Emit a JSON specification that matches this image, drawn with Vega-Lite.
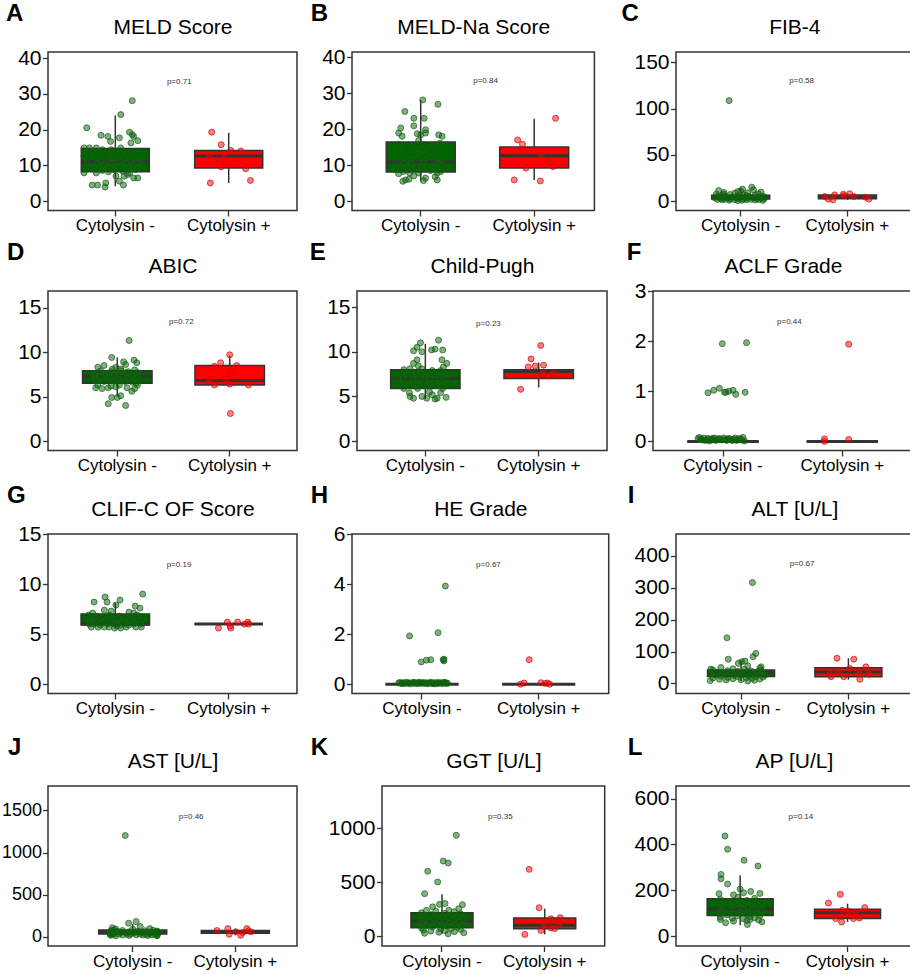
{
"$schema": "https://vega.github.io/schema/vega-lite/v6.json",
"padding": {"left": 0, "top": 0, "right": 0, "bottom": 0},
"background": "#ffffff",
"spacing": 0,
"config": {
  "font": "Liberation Sans",
  "view": {"stroke": "#333333", "strokeWidth": 1.5},
  "axis": {"grid": false, "domain": false, "tickColor": "#333333", "tickWidth": 1.3, "tickSize": 5.5, "labelColor": "#000000", "labelFont": "Liberation Sans", "labelPadding": 1.5, "titleFont": "Liberation Sans", "titleColor": "#000000", "titleFontWeight": "normal"},
  "axisX": {"labelFontSize": 17, "labelAngle": 0},
  "axisY": {"labelFontSize": 21, "labelFlush": false, "labelOverlap": false, "labelBound": false},
  "title": {"fontSize": 24, "fontWeight": "bold", "anchor": "start", "frame": "bounds", "offset": -9.5, "baseline": "alphabetic", "color": "#000000", "font": "Liberation Sans"}
},
"datasets": {
"box": [
{"p":"A","g":"-","lo":4.2,"q1":8.2,"med":11,"q3":14.7,"hi":24},
{"p":"A","g":"+","lo":5.1,"q1":9.3,"med":12.6,"q3":14.2,"hi":19.1},
{"p":"B","g":"-","lo":5.6,"q1":8.2,"med":10.9,"q3":16.5,"hi":28.2},
{"p":"B","g":"+","lo":6.0,"q1":9.3,"med":12.7,"q3":15.1,"hi":23.0},
{"p":"C","g":"-","lo":0.6,"q1":2.2,"med":4.0,"q3":6.5,"hi":13},
{"p":"C","g":"+","lo":1.4,"q1":2.5,"med":5.0,"q3":6.6,"hi":7.9},
{"p":"D","g":"-","lo":5.0,"q1":6.5,"med":7.3,"q3":7.9,"hi":9.4},
{"p":"D","g":"+","lo":6.3,"q1":6.3,"med":6.8,"q3":8.5,"hi":9.6},
{"p":"E","g":"-","lo":4.7,"q1":5.9,"med":7.0,"q3":8.0,"hi":10.9},
{"p":"E","g":"+","lo":6.0,"q1":7.0,"med":7.8,"q3":8.0,"hi":8.8},
{"p":"F","g":"-","lo":0,"q1":0,"med":0,"q3":0,"hi":0},
{"p":"F","g":"+","lo":0,"q1":0,"med":0,"q3":0,"hi":0},
{"p":"G","g":"-","lo":5.6,"q1":5.9,"med":6.0,"q3":7.0,"hi":8.1},
{"p":"G","g":"+","lo":6.0,"q1":6.0,"med":6.0,"q3":6.0,"hi":6.0},
{"p":"H","g":"-","lo":0,"q1":0,"med":0,"q3":0,"hi":0},
{"p":"H","g":"+","lo":0,"q1":0,"med":0,"q3":0,"hi":0},
{"p":"I","g":"-","lo":8,"q1":22,"med":34,"q3":42,"hi":72},
{"p":"I","g":"+","lo":12,"q1":21,"med":36,"q3":49,"hi":79},
{"p":"J","g":"-","lo":12,"q1":30,"med":52,"q3":78,"hi":150},
{"p":"J","g":"+","lo":16,"q1":40,"med":58,"q3":72,"hi":95},
{"p":"K","g":"-","lo":20,"q1":77,"med":136,"q3":216,"hi":386},
{"p":"K","g":"+","lo":15,"q1":68,"med":99,"q3":167,"hi":253},
{"p":"L","g":"-","lo":47,"q1":90,"med":119,"q3":163,"hi":265},
{"p":"L","g":"+","lo":62,"q1":76,"med":102,"q3":117,"hi":141}
],
"ann": [
{"p":"A","t":"p=0.71","y":33.2},
{"p":"B","t":"p=0.84","y":33.5},
{"p":"C","t":"p=0.58","y":129.9},
{"p":"D","t":"p=0.72","y":13.4},
{"p":"E","t":"p=0.23","y":13.1},
{"p":"F","t":"p=0.44","y":2.39},
{"p":"G","t":"p=0.19","y":11.9},
{"p":"H","t":"p=0.67","y":4.77},
{"p":"I","t":"p=0.67","y":375},
{"p":"J","t":"p=0.46","y":1420},
{"p":"K","t":"p=0.35","y":1102},
{"p":"L","t":"p=0.14","y":520}
],
"pts": [
{"p":"A","g":"-","v":28.1,"j":0.25},{"p":"A","g":"-","v":24.2,"j":0.08},{"p":"A","g":"-","v":20.5,"j":-0.42},{"p":"A","g":"-","v":18.4,"j":-0.21},{"p":"A","g":"-","v":18.1,"j":-0.11},{"p":"A","g":"-","v":19.3,"j":0.21},{"p":"A","g":"-","v":18.6,"j":0.25},{"p":"A","g":"-","v":18.1,"j":0.27},{"p":"A","g":"-","v":16.7,"j":-0.07},{"p":"A","g":"-","v":16.3,"j":0.23},{"p":"A","g":"-","v":16.9,"j":0.33},{"p":"A","g":"-","v":17.7,"j":0.06},{"p":"A","g":"-","v":14.9,"j":-0.46},{"p":"A","g":"-","v":14.9,"j":-0.38},{"p":"A","g":"-","v":14.9,"j":-0.28},{"p":"A","g":"-","v":14.4,"j":-0.19},{"p":"A","g":"-","v":14.4,"j":-0.06},{"p":"A","g":"-","v":13.0,"j":-0.09},{"p":"A","g":"-","v":14.0,"j":0.01},{"p":"A","g":"-","v":14.9,"j":0.08},{"p":"A","g":"-","v":13.2,"j":0.18},{"p":"A","g":"-","v":12.6,"j":-0.46},{"p":"A","g":"-","v":12.3,"j":-0.28},{"p":"A","g":"-","v":12.6,"j":-0.14},{"p":"A","g":"-","v":12.1,"j":-0.04},{"p":"A","g":"-","v":12.4,"j":0.03},{"p":"A","g":"-","v":12.1,"j":0.28},{"p":"A","g":"-","v":11.9,"j":0.35},{"p":"A","g":"-","v":10.7,"j":-0.41},{"p":"A","g":"-","v":10.4,"j":-0.26},{"p":"A","g":"-","v":11.3,"j":-0.21},{"p":"A","g":"-","v":10.2,"j":-0.16},{"p":"A","g":"-","v":10.7,"j":-0.06},{"p":"A","g":"-","v":11.2,"j":0.06},{"p":"A","g":"-","v":10.7,"j":0.16},{"p":"A","g":"-","v":10.2,"j":0.25},{"p":"A","g":"-","v":10.2,"j":0.4},{"p":"A","g":"-","v":9.3,"j":-0.36},{"p":"A","g":"-","v":7.9,"j":-0.46},{"p":"A","g":"-","v":7.9,"j":-0.28},{"p":"A","g":"-","v":8.6,"j":-0.19},{"p":"A","g":"-","v":8.2,"j":-0.1},{"p":"A","g":"-","v":8.8,"j":-0.01},{"p":"A","g":"-","v":8.4,"j":0.11},{"p":"A","g":"-","v":7.9,"j":0.21},{"p":"A","g":"-","v":8.8,"j":0.3},{"p":"A","g":"-","v":9.3,"j":0.33},{"p":"A","g":"-","v":7.0,"j":0.01},{"p":"A","g":"-","v":7.0,"j":0.13},{"p":"A","g":"-","v":7.4,"j":0.18},{"p":"A","g":"-","v":6.5,"j":0.27},{"p":"A","g":"-","v":6.5,"j":0.33},{"p":"A","g":"-","v":5.6,"j":0.06},{"p":"A","g":"-","v":4.5,"j":0.12},{"p":"A","g":"-","v":5.1,"j":-0.14},{"p":"A","g":"-","v":4.5,"j":-0.34},{"p":"A","g":"-","v":4.5,"j":-0.26},{"p":"A","g":"-","v":4.0,"j":-0.15},
{"p":"A","g":"+","v":19.3,"j":-0.25},{"p":"A","g":"+","v":15.8,"j":-0.11},{"p":"A","g":"+","v":14.2,"j":0.03},{"p":"A","g":"+","v":14.0,"j":0.18},{"p":"A","g":"+","v":12.6,"j":-0.28},{"p":"A","g":"+","v":12.4,"j":-0.07},{"p":"A","g":"+","v":11.0,"j":-0.04},{"p":"A","g":"+","v":9.6,"j":-0.11},{"p":"A","g":"+","v":9.1,"j":0.25},{"p":"A","g":"+","v":5.1,"j":-0.27},{"p":"A","g":"+","v":5.8,"j":0.32},
{"p":"B","g":"-","v":28.2,"j":0.03},{"p":"B","g":"-","v":27.0,"j":0.25},{"p":"B","g":"-","v":25.0,"j":-0.23},{"p":"B","g":"-","v":23.1,"j":-0.1},{"p":"B","g":"-","v":23.1,"j":0.05},{"p":"B","g":"-","v":21.0,"j":-0.1},{"p":"B","g":"-","v":20.4,"j":-0.29},{"p":"B","g":"-","v":19.9,"j":0.07},{"p":"B","g":"-","v":19.0,"j":-0.32},{"p":"B","g":"-","v":18.8,"j":-0.05},{"p":"B","g":"-","v":18.5,"j":0.0},{"p":"B","g":"-","v":19.0,"j":0.07},{"p":"B","g":"-","v":18.5,"j":0.26},{"p":"B","g":"-","v":18.1,"j":0.31},{"p":"B","g":"-","v":18.1,"j":-0.27},{"p":"B","g":"-","v":15.9,"j":-0.32},{"p":"B","g":"-","v":16.9,"j":-0.03},{"p":"B","g":"-","v":14.8,"j":-0.26},{"p":"B","g":"-","v":15.3,"j":-0.13},{"p":"B","g":"-","v":15.3,"j":0.24},{"p":"B","g":"-","v":16.2,"j":0.28},{"p":"B","g":"-","v":14.4,"j":0.02},{"p":"B","g":"-","v":14.8,"j":0.16},{"p":"B","g":"-","v":13.2,"j":-0.04},{"p":"B","g":"-","v":13.0,"j":0.08},{"p":"B","g":"-","v":13.0,"j":-0.1},{"p":"B","g":"-","v":11.8,"j":-0.19},{"p":"B","g":"-","v":12.5,"j":0.13},{"p":"B","g":"-","v":12.0,"j":0.26},{"p":"B","g":"-","v":11.1,"j":0.04},{"p":"B","g":"-","v":10.6,"j":-0.25},{"p":"B","g":"-","v":10.6,"j":-0.14},{"p":"B","g":"-","v":10.5,"j":0.26},{"p":"B","g":"-","v":10.2,"j":0.31},{"p":"B","g":"-","v":9.7,"j":-0.06},{"p":"B","g":"-","v":9.3,"j":0.02},{"p":"B","g":"-","v":9.7,"j":0.16},{"p":"B","g":"-","v":8.8,"j":-0.37},{"p":"B","g":"-","v":8.3,"j":-0.25},{"p":"B","g":"-","v":7.7,"j":-0.32},{"p":"B","g":"-","v":7.9,"j":-0.16},{"p":"B","g":"-","v":8.6,"j":0.14},{"p":"B","g":"-","v":7.9,"j":0.24},{"p":"B","g":"-","v":8.3,"j":0.29},{"p":"B","g":"-","v":7.1,"j":-0.1},{"p":"B","g":"-","v":7.9,"j":-0.03},{"p":"B","g":"-","v":6.5,"j":0.07},{"p":"B","g":"-","v":6.9,"j":0.21},{"p":"B","g":"-","v":6.0,"j":-0.22},{"p":"B","g":"-","v":6.2,"j":-0.17},{"p":"B","g":"-","v":5.6,"j":-0.26},{"p":"B","g":"-","v":6.0,"j":0.24},{"p":"B","g":"-","v":5.8,"j":0.04},
{"p":"B","g":"+","v":23.1,"j":0.31},{"p":"B","g":"+","v":17.1,"j":-0.24},{"p":"B","g":"+","v":15.9,"j":-0.17},{"p":"B","g":"+","v":14.2,"j":-0.16},{"p":"B","g":"+","v":12.8,"j":0.1},{"p":"B","g":"+","v":9.3,"j":-0.12},{"p":"B","g":"+","v":10.9,"j":0.2},{"p":"B","g":"+","v":9.7,"j":0.27},{"p":"B","g":"+","v":6.0,"j":-0.29},{"p":"B","g":"+","v":5.7,"j":0.09},
{"p":"C","g":"-","v":108.6,"j":-0.2},{"p":"C","g":"-","v":15.1,"j":0.19},{"p":"C","g":"-","v":13.0,"j":0.03},{"p":"C","g":"-","v":11.5,"j":-0.38},{"p":"C","g":"-","v":12.2,"j":0.22},{"p":"C","g":"-","v":10.4,"j":-0.05},{"p":"C","g":"-","v":9.4,"j":-0.29},{"p":"C","g":"-","v":8.6,"j":-0.1},{"p":"C","g":"-","v":9.0,"j":0.12},{"p":"C","g":"-","v":8.0,"j":0.3},{"p":"C","g":"-","v":7.5,"j":-0.42},{"p":"C","g":"-","v":7.2,"j":-0.18},{"p":"C","g":"-","v":6.8,"j":0.05},{"p":"C","g":"-","v":6.5,"j":0.25},{"p":"C","g":"-","v":6.2,"j":-0.32},{"p":"C","g":"-","v":6.0,"j":0.1},{"p":"C","g":"-","v":5.8,"j":-0.05},{"p":"C","g":"-","v":5.5,"j":0.38},{"p":"C","g":"-","v":5.3,"j":-0.25},{"p":"C","g":"-","v":5.1,"j":0.15},{"p":"C","g":"-","v":4.9,"j":-0.4},{"p":"C","g":"-","v":4.7,"j":0.0},{"p":"C","g":"-","v":4.5,"j":0.3},{"p":"C","g":"-","v":4.4,"j":-0.15},{"p":"C","g":"-","v":4.2,"j":0.2},{"p":"C","g":"-","v":4.0,"j":-0.3},{"p":"C","g":"-","v":3.9,"j":0.08},{"p":"C","g":"-","v":3.7,"j":-0.45},{"p":"C","g":"-","v":3.6,"j":0.35},{"p":"C","g":"-","v":3.5,"j":-0.08},{"p":"C","g":"-","v":3.3,"j":0.22},{"p":"C","g":"-","v":3.2,"j":-0.22},{"p":"C","g":"-","v":3.0,"j":0.12},{"p":"C","g":"-","v":2.9,"j":-0.35},{"p":"C","g":"-","v":2.8,"j":0.28},{"p":"C","g":"-","v":2.7,"j":-0.02},{"p":"C","g":"-","v":2.5,"j":0.4},{"p":"C","g":"-","v":2.4,"j":-0.18},{"p":"C","g":"-","v":2.3,"j":0.05},{"p":"C","g":"-","v":2.1,"j":-0.28},{"p":"C","g":"-","v":2.0,"j":0.18},{"p":"C","g":"-","v":1.9,"j":-0.4},{"p":"C","g":"-","v":1.8,"j":0.32},{"p":"C","g":"-","v":1.6,"j":-0.1},{"p":"C","g":"-","v":1.5,"j":0.1},{"p":"C","g":"-","v":1.4,"j":-0.32},{"p":"C","g":"-","v":1.2,"j":0.25},{"p":"C","g":"-","v":1.0,"j":-0.2},{"p":"C","g":"-","v":0.9,"j":0.02},{"p":"C","g":"-","v":0.8,"j":0.38},{"p":"C","g":"-","v":0.6,"j":-0.05},{"p":"C","g":"-","v":7.8,"j":-0.3},{"p":"C","g":"-","v":9.8,"j":0.35},{"p":"C","g":"-","v":11.0,"j":0.0},{"p":"C","g":"-","v":4.1,"j":0.42},
{"p":"C","g":"+","v":6.8,"j":-0.22},{"p":"C","g":"+","v":5.0,"j":-0.39},{"p":"C","g":"+","v":1.4,"j":-0.25},{"p":"C","g":"+","v":7.5,"j":-0.07},{"p":"C","g":"+","v":7.9,"j":0.04},{"p":"C","g":"+","v":5.0,"j":0.11},{"p":"C","g":"+","v":4.3,"j":0.31},{"p":"C","g":"+","v":2.2,"j":0.37},{"p":"C","g":"+","v":2.2,"j":-0.33},{"p":"C","g":"+","v":5.8,"j":-0.06},
{"p":"D","g":"-","v":11.3,"j":0.17},{"p":"D","g":"-","v":9.4,"j":-0.08},{"p":"D","g":"-","v":9.1,"j":0.24},{"p":"D","g":"-","v":8.8,"j":0.28},{"p":"D","g":"-","v":8.9,"j":0.09},{"p":"D","g":"-","v":8.3,"j":-0.28},{"p":"D","g":"-","v":8.5,"j":-0.19},{"p":"D","g":"-","v":8.3,"j":-0.02},{"p":"D","g":"-","v":8.1,"j":0.05},{"p":"D","g":"-","v":8.0,"j":0.25},{"p":"D","g":"-","v":7.9,"j":-0.24},{"p":"D","g":"-","v":7.8,"j":-0.09},{"p":"D","g":"-","v":7.7,"j":0.13},{"p":"D","g":"-","v":7.7,"j":0.29},{"p":"D","g":"-","v":7.4,"j":-0.33},{"p":"D","g":"-","v":7.5,"j":-0.16},{"p":"D","g":"-","v":7.4,"j":-0.04},{"p":"D","g":"-","v":7.5,"j":0.03},{"p":"D","g":"-","v":7.4,"j":0.2},{"p":"D","g":"-","v":7.2,"j":-0.25},{"p":"D","g":"-","v":7.1,"j":-0.13},{"p":"D","g":"-","v":7.2,"j":0.08},{"p":"D","g":"-","v":7.0,"j":0.17},{"p":"D","g":"-","v":7.1,"j":0.27},{"p":"D","g":"-","v":6.8,"j":-0.31},{"p":"D","g":"-","v":6.7,"j":-0.19},{"p":"D","g":"-","v":6.8,"j":-0.02},{"p":"D","g":"-","v":6.7,"j":0.11},{"p":"D","g":"-","v":6.6,"j":0.22},{"p":"D","g":"-","v":6.3,"j":-0.28},{"p":"D","g":"-","v":6.2,"j":-0.09},{"p":"D","g":"-","v":6.3,"j":0.03},{"p":"D","g":"-","v":6.3,"j":0.29},{"p":"D","g":"-","v":5.9,"j":-0.22},{"p":"D","g":"-","v":6.0,"j":-0.13},{"p":"D","g":"-","v":5.9,"j":0.25},{"p":"D","g":"-","v":5.6,"j":0.21},{"p":"D","g":"-","v":4.9,"j":0.0},{"p":"D","g":"-","v":4.9,"j":-0.08},{"p":"D","g":"-","v":5.1,"j":0.05},{"p":"D","g":"-","v":4.2,"j":-0.13},{"p":"D","g":"-","v":4.0,"j":0.12},{"p":"D","g":"-","v":6.0,"j":-0.31},{"p":"D","g":"-","v":6.0,"j":0.14},{"p":"D","g":"-","v":8.1,"j":-0.07},{"p":"D","g":"-","v":7.9,"j":0.05},{"p":"D","g":"-","v":7.6,"j":-0.34},{"p":"D","g":"-","v":7.3,"j":0.3},{"p":"D","g":"-","v":6.9,"j":-0.3},{"p":"D","g":"-","v":6.5,"j":0.27},{"p":"D","g":"-","v":7.0,"j":0.0},{"p":"D","g":"-","v":7.8,"j":0.16},{"p":"D","g":"-","v":6.1,"j":-0.02},{"p":"D","g":"-","v":8.6,"j":0.12},
{"p":"D","g":"+","v":9.7,"j":0.0},{"p":"D","g":"+","v":8.8,"j":-0.13},{"p":"D","g":"+","v":8.5,"j":0.1},{"p":"D","g":"+","v":8.4,"j":-0.22},{"p":"D","g":"+","v":7.8,"j":0.01},{"p":"D","g":"+","v":7.0,"j":-0.05},{"p":"D","g":"+","v":6.8,"j":-0.3},{"p":"D","g":"+","v":6.3,"j":-0.22},{"p":"D","g":"+","v":6.4,"j":0.0},{"p":"D","g":"+","v":6.3,"j":0.27},{"p":"D","g":"+","v":3.1,"j":0.01},
{"p":"E","g":"-","v":11.0,"j":-0.07},{"p":"E","g":"-","v":11.3,"j":0.19},{"p":"E","g":"-","v":10.5,"j":-0.12},{"p":"E","g":"-","v":10.1,"j":-0.17},{"p":"E","g":"-","v":10.0,"j":-0.05},{"p":"E","g":"-","v":10.2,"j":0.09},{"p":"E","g":"-","v":10.3,"j":0.14},{"p":"E","g":"-","v":10.2,"j":0.25},{"p":"E","g":"-","v":9.1,"j":-0.12},{"p":"E","g":"-","v":9.1,"j":0.24},{"p":"E","g":"-","v":8.7,"j":0.31},{"p":"E","g":"-","v":8.7,"j":-0.17},{"p":"E","g":"-","v":8.4,"j":-0.1},{"p":"E","g":"-","v":8.3,"j":0.26},{"p":"E","g":"-","v":8.0,"j":-0.31},{"p":"E","g":"-","v":8.1,"j":-0.22},{"p":"E","g":"-","v":8.1,"j":-0.05},{"p":"E","g":"-","v":7.9,"j":0.1},{"p":"E","g":"-","v":7.9,"j":0.22},{"p":"E","g":"-","v":7.5,"j":-0.26},{"p":"E","g":"-","v":7.5,"j":-0.13},{"p":"E","g":"-","v":7.3,"j":0.0},{"p":"E","g":"-","v":7.4,"j":0.14},{"p":"E","g":"-","v":7.5,"j":0.29},{"p":"E","g":"-","v":7.2,"j":-0.43},{"p":"E","g":"-","v":7.0,"j":-0.32},{"p":"E","g":"-","v":6.9,"j":-0.18},{"p":"E","g":"-","v":7.1,"j":-0.07},{"p":"E","g":"-","v":7.0,"j":0.06},{"p":"E","g":"-","v":6.8,"j":0.21},{"p":"E","g":"-","v":7.0,"j":0.31},{"p":"E","g":"-","v":6.4,"j":-0.38},{"p":"E","g":"-","v":6.2,"j":-0.24},{"p":"E","g":"-","v":6.3,"j":-0.1},{"p":"E","g":"-","v":6.2,"j":0.03},{"p":"E","g":"-","v":6.2,"j":0.17},{"p":"E","g":"-","v":5.9,"j":-0.31},{"p":"E","g":"-","v":5.9,"j":-0.11},{"p":"E","g":"-","v":5.9,"j":0.25},{"p":"E","g":"-","v":5.4,"j":-0.23},{"p":"E","g":"-","v":5.5,"j":0.06},{"p":"E","g":"-","v":5.4,"j":0.22},{"p":"E","g":"-","v":4.8,"j":-0.17},{"p":"E","g":"-","v":4.8,"j":0.02},{"p":"E","g":"-","v":4.7,"j":0.14},{"p":"E","g":"-","v":4.8,"j":0.17},{"p":"E","g":"-","v":4.9,"j":0.3},{"p":"E","g":"-","v":5.0,"j":-0.22},{"p":"E","g":"-","v":5.0,"j":-0.05},{"p":"E","g":"-","v":5.2,"j":0.1},
{"p":"E","g":"+","v":10.7,"j":0.03},{"p":"E","g":"+","v":9.2,"j":-0.11},{"p":"E","g":"+","v":8.3,"j":-0.15},{"p":"E","g":"+","v":8.4,"j":-0.05},{"p":"E","g":"+","v":5.8,"j":-0.26},{"p":"E","g":"+","v":7.6,"j":0.06},{"p":"E","g":"+","v":7.3,"j":0.14},{"p":"E","g":"+","v":7.6,"j":0.21},{"p":"E","g":"+","v":8.5,"j":0.07},{"p":"E","g":"+","v":7.3,"j":-0.02},
{"p":"F","g":"-","v":0.06,"j":-0.35},{"p":"F","g":"-","v":0.08,"j":-0.33},{"p":"F","g":"-","v":0.05,"j":-0.31},{"p":"F","g":"-","v":0.03,"j":-0.29},{"p":"F","g":"-","v":0.07,"j":-0.27},{"p":"F","g":"-","v":0.02,"j":-0.25},{"p":"F","g":"-","v":0.04,"j":-0.23},{"p":"F","g":"-","v":0.06,"j":-0.21},{"p":"F","g":"-","v":0.01,"j":-0.19},{"p":"F","g":"-","v":0.05,"j":-0.17},{"p":"F","g":"-","v":0.03,"j":-0.15},{"p":"F","g":"-","v":0.07,"j":-0.12},{"p":"F","g":"-","v":0.02,"j":-0.1},{"p":"F","g":"-","v":0.04,"j":-0.08},{"p":"F","g":"-","v":0.06,"j":-0.06},{"p":"F","g":"-","v":0.05,"j":-0.04},{"p":"F","g":"-","v":0.03,"j":-0.02},{"p":"F","g":"-","v":0.07,"j":0.01},{"p":"F","g":"-","v":0.04,"j":0.03},{"p":"F","g":"-","v":0.02,"j":0.05},{"p":"F","g":"-","v":0.06,"j":0.08},{"p":"F","g":"-","v":0.05,"j":0.1},{"p":"F","g":"-","v":0.03,"j":0.12},{"p":"F","g":"-","v":0.04,"j":0.15},{"p":"F","g":"-","v":0.07,"j":0.17},{"p":"F","g":"-","v":0.02,"j":0.19},{"p":"F","g":"-","v":0.05,"j":0.21},{"p":"F","g":"-","v":0.06,"j":0.24},{"p":"F","g":"-","v":0.03,"j":0.26},{"p":"F","g":"-","v":0.08,"j":0.28},{"p":"F","g":"-","v":0.01,"j":0.3},{"p":"F","g":"-","v":0.04,"j":-0.3},{"p":"F","g":"-","v":0.02,"j":0.13},{"p":"F","g":"-","v":0.06,"j":-0.14},{"p":"F","g":"-","v":0.05,"j":0.06},
{"p":"F","g":"-","v":0.97,"j":-0.21},{"p":"F","g":"-","v":1.02,"j":-0.13},{"p":"F","g":"-","v":1.06,"j":-0.05},{"p":"F","g":"-","v":0.98,"j":0.02},{"p":"F","g":"-","v":0.98,"j":0.04},{"p":"F","g":"-","v":1.0,"j":0.08},{"p":"F","g":"-","v":1.02,"j":0.14},{"p":"F","g":"-","v":0.94,"j":0.18},{"p":"F","g":"-","v":0.98,"j":0.31},{"p":"F","g":"-","v":1.95,"j":-0.01},{"p":"F","g":"-","v":1.97,"j":0.33},
{"p":"F","g":"+","v":0.05,"j":-0.25},{"p":"F","g":"+","v":0.0,"j":-0.25},{"p":"F","g":"+","v":0.04,"j":0.09},{"p":"F","g":"+","v":1.94,"j":0.09},
{"p":"G","g":"-","v":9.0,"j":0.4},{"p":"G","g":"-","v":8.7,"j":-0.15},{"p":"G","g":"-","v":8.2,"j":-0.31},{"p":"G","g":"-","v":8.2,"j":-0.12},{"p":"G","g":"-","v":8.4,"j":0.07},{"p":"G","g":"-","v":7.9,"j":0.01},{"p":"G","g":"-","v":7.8,"j":0.29},{"p":"G","g":"-","v":7.4,"j":-0.16},{"p":"G","g":"-","v":7.3,"j":-0.06},{"p":"G","g":"-","v":7.2,"j":0.2},{"p":"G","g":"-","v":7.1,"j":0.27},{"p":"G","g":"-","v":6.9,"j":-0.39},{"p":"G","g":"-","v":6.8,"j":-0.26},{"p":"G","g":"-","v":6.9,"j":-0.09},{"p":"G","g":"-","v":6.8,"j":0.06},{"p":"G","g":"-","v":6.6,"j":0.14},{"p":"G","g":"-","v":6.5,"j":-0.23},{"p":"G","g":"-","v":6.5,"j":-0.01},{"p":"G","g":"-","v":6.5,"j":0.2},{"p":"G","g":"-","v":6.5,"j":0.33},{"p":"G","g":"-","v":6.3,"j":-0.37},{"p":"G","g":"-","v":6.3,"j":-0.15},{"p":"G","g":"-","v":6.3,"j":0.06},{"p":"G","g":"-","v":6.3,"j":0.25},{"p":"G","g":"-","v":6.0,"j":-0.31},{"p":"G","g":"-","v":6.0,"j":-0.11},{"p":"G","g":"-","v":6.0,"j":0.01},{"p":"G","g":"-","v":6.0,"j":0.14},{"p":"G","g":"-","v":6.0,"j":0.27},{"p":"G","g":"-","v":5.9,"j":-0.22},{"p":"G","g":"-","v":5.9,"j":0.07},{"p":"G","g":"-","v":6.0,"j":0.37},{"p":"G","g":"-","v":5.7,"j":-0.35},{"p":"G","g":"-","v":5.7,"j":-0.16},{"p":"G","g":"-","v":5.6,"j":-0.01},{"p":"G","g":"-","v":5.7,"j":0.16},{"p":"G","g":"-","v":5.7,"j":0.3},{"p":"G","g":"-","v":5.7,"j":-0.25},{"p":"G","g":"-","v":5.7,"j":-0.09},{"p":"G","g":"-","v":5.6,"j":0.08},{"p":"G","g":"-","v":6.2,"j":-0.38},{"p":"G","g":"-","v":6.4,"j":0.38},{"p":"G","g":"-","v":6.1,"j":-0.05},{"p":"G","g":"-","v":5.9,"j":0.2},{"p":"G","g":"-","v":6.7,"j":-0.2},{"p":"G","g":"-","v":6.9,"j":0.32},{"p":"G","g":"-","v":6.0,"j":-0.38},{"p":"G","g":"-","v":5.8,"j":0.02},{"p":"G","g":"-","v":6.3,"j":-0.28},{"p":"G","g":"-","v":6.6,"j":0.05},{"p":"G","g":"-","v":7.1,"j":-0.33},{"p":"G","g":"-","v":5.7,"j":0.38},{"p":"G","g":"-","v":6.8,"j":0.3},{"p":"G","g":"-","v":6.2,"j":0.1},{"p":"G","g":"-","v":7.6,"j":0.36},
{"p":"G","g":"+","v":5.6,"j":-0.15},{"p":"G","g":"+","v":6.2,"j":-0.02},{"p":"G","g":"+","v":5.6,"j":0.03},{"p":"G","g":"+","v":6.2,"j":0.13},{"p":"G","g":"+","v":6.0,"j":0.23},{"p":"G","g":"+","v":6.2,"j":0.28},{"p":"G","g":"+","v":6.0,"j":0.29},{"p":"G","g":"+","v":5.8,"j":0.02},
{"p":"H","g":"-","v":0.05,"j":-0.32},{"p":"H","g":"-","v":0.07,"j":-0.3},{"p":"H","g":"-","v":0.03,"j":-0.28},{"p":"H","g":"-","v":0.06,"j":-0.26},{"p":"H","g":"-","v":0.02,"j":-0.24},{"p":"H","g":"-","v":0.08,"j":-0.22},{"p":"H","g":"-","v":0.04,"j":-0.2},{"p":"H","g":"-","v":0.06,"j":-0.18},{"p":"H","g":"-","v":0.01,"j":-0.16},{"p":"H","g":"-","v":0.05,"j":-0.14},{"p":"H","g":"-","v":0.07,"j":-0.12},{"p":"H","g":"-","v":0.03,"j":-0.1},{"p":"H","g":"-","v":0.06,"j":-0.08},{"p":"H","g":"-","v":0.02,"j":-0.06},{"p":"H","g":"-","v":0.08,"j":-0.04},{"p":"H","g":"-","v":0.04,"j":-0.02},{"p":"H","g":"-","v":0.05,"j":0.0},{"p":"H","g":"-","v":0.07,"j":0.02},{"p":"H","g":"-","v":0.03,"j":0.04},{"p":"H","g":"-","v":0.06,"j":0.06},{"p":"H","g":"-","v":0.02,"j":0.08},{"p":"H","g":"-","v":0.05,"j":0.1},{"p":"H","g":"-","v":0.08,"j":0.12},{"p":"H","g":"-","v":0.04,"j":0.14},{"p":"H","g":"-","v":0.06,"j":0.16},{"p":"H","g":"-","v":0.01,"j":0.18},{"p":"H","g":"-","v":0.07,"j":0.2},{"p":"H","g":"-","v":0.03,"j":0.22},{"p":"H","g":"-","v":0.05,"j":0.24},{"p":"H","g":"-","v":0.06,"j":0.26},{"p":"H","g":"-","v":0.02,"j":0.28},{"p":"H","g":"-","v":0.07,"j":0.3},{"p":"H","g":"-","v":0.04,"j":0.32},{"p":"H","g":"-","v":0.05,"j":0.34},{"p":"H","g":"-","v":0.03,"j":0.35},{"p":"H","g":"-","v":0.06,"j":-0.03},{"p":"H","g":"-","v":0.04,"j":0.07},{"p":"H","g":"-","v":0.07,"j":-0.11},{"p":"H","g":"-","v":0.02,"j":0.15},{"p":"H","g":"-","v":0.05,"j":-0.19},{"p":"H","g":"-","v":0.06,"j":0.23},{"p":"H","g":"-","v":0.03,"j":-0.27},{"p":"H","g":"-","v":0.08,"j":0.31},{"p":"H","g":"-","v":0.04,"j":0.01},{"p":"H","g":"-","v":0.05,"j":0.11},
{"p":"H","g":"-","v":0.89,"j":-0.01},{"p":"H","g":"-","v":0.96,"j":0.06},{"p":"H","g":"-","v":0.98,"j":0.12},{"p":"H","g":"-","v":0.98,"j":0.29},{"p":"H","g":"-","v":1.0,"j":0.3},{"p":"H","g":"-","v":0.93,"j":0.3},{"p":"H","g":"-","v":1.93,"j":-0.17},{"p":"H","g":"-","v":2.06,"j":0.22},{"p":"H","g":"-","v":3.92,"j":0.32},
{"p":"H","g":"+","v":0.98,"j":-0.13},{"p":"H","g":"+","v":0.0,"j":-0.25},{"p":"H","g":"+","v":0.05,"j":-0.2},{"p":"H","g":"+","v":0.06,"j":0.03},{"p":"H","g":"+","v":0.03,"j":0.09},{"p":"H","g":"+","v":0.05,"j":0.12},{"p":"H","g":"+","v":0.0,"j":0.15},
{"p":"I","g":"-","v":316,"j":0.17},{"p":"I","g":"-","v":143,"j":-0.21},{"p":"I","g":"-","v":94,"j":0.22},{"p":"I","g":"-","v":84,"j":0.18},{"p":"I","g":"-","v":76,"j":-0.19},{"p":"I","g":"-","v":70,"j":0.06},{"p":"I","g":"-","v":68,"j":0.01},{"p":"I","g":"-","v":63,"j":-0.04},{"p":"I","g":"-","v":55,"j":0.1},{"p":"I","g":"-","v":50,"j":-0.3},{"p":"I","g":"-","v":48,"j":0.28},{"p":"I","g":"-","v":46,"j":-0.12},{"p":"I","g":"-","v":44,"j":0.05},{"p":"I","g":"-","v":42,"j":-0.42},{"p":"I","g":"-","v":41,"j":0.3},{"p":"I","g":"-","v":40,"j":-0.2},{"p":"I","g":"-","v":39,"j":0.15},{"p":"I","g":"-","v":38,"j":-0.05},{"p":"I","g":"-","v":37,"j":0.25},{"p":"I","g":"-","v":36,"j":-0.35},{"p":"I","g":"-","v":35,"j":0.08},{"p":"I","g":"-","v":34,"j":-0.15},{"p":"I","g":"-","v":33,"j":0.32},{"p":"I","g":"-","v":32,"j":-0.02},{"p":"I","g":"-","v":31,"j":-0.45},{"p":"I","g":"-","v":30,"j":0.18},{"p":"I","g":"-","v":29,"j":-0.25},{"p":"I","g":"-","v":28,"j":0.03},{"p":"I","g":"-","v":27,"j":0.27},{"p":"I","g":"-","v":26,"j":-0.38},{"p":"I","g":"-","v":25,"j":-0.1},{"p":"I","g":"-","v":24,"j":0.12},{"p":"I","g":"-","v":23,"j":-0.3},{"p":"I","g":"-","v":22,"j":0.22},{"p":"I","g":"-","v":21,"j":-0.05},{"p":"I","g":"-","v":20,"j":0.33},{"p":"I","g":"-","v":19,"j":-0.2},{"p":"I","g":"-","v":18,"j":0.08},{"p":"I","g":"-","v":17,"j":-0.42},{"p":"I","g":"-","v":16,"j":0.16},{"p":"I","g":"-","v":15,"j":-0.12},{"p":"I","g":"-","v":14,"j":0.28},{"p":"I","g":"-","v":13,"j":-0.32},{"p":"I","g":"-","v":12,"j":0.0},{"p":"I","g":"-","v":11,"j":-0.22},{"p":"I","g":"-","v":10,"j":0.2},{"p":"I","g":"-","v":9,"j":-0.46},{"p":"I","g":"-","v":8,"j":0.1},{"p":"I","g":"-","v":45,"j":-0.45},{"p":"I","g":"-","v":52,"j":0.3},{"p":"I","g":"-","v":26,"j":0.36},{"p":"I","g":"-","v":33,"j":-0.28},
{"p":"I","g":"+","v":79,"j":-0.17},{"p":"I","g":"+","v":76,"j":0.08},{"p":"I","g":"+","v":52,"j":0.26},{"p":"I","g":"+","v":47,"j":0.02},{"p":"I","g":"+","v":37,"j":-0.16},{"p":"I","g":"+","v":29,"j":-0.28},{"p":"I","g":"+","v":21,"j":-0.26},{"p":"I","g":"+","v":21,"j":-0.07},{"p":"I","g":"+","v":13,"j":0.17},{"p":"I","g":"+","v":29,"j":0.31},{"p":"I","g":"+","v":37,"j":0.15},
{"p":"J","g":"-","v":1202,"j":-0.11},{"p":"J","g":"-","v":179,"j":0.05},{"p":"J","g":"-","v":159,"j":-0.06},{"p":"J","g":"-","v":119,"j":0.11},{"p":"J","g":"-","v":88,"j":0.0},{"p":"J","g":"-","v":105,"j":-0.3},{"p":"J","g":"-","v":95,"j":0.25},{"p":"J","g":"-","v":80,"j":-0.28},{"p":"J","g":"-","v":75,"j":0.3},{"p":"J","g":"-","v":72,"j":-0.15},{"p":"J","g":"-","v":70,"j":0.18},{"p":"J","g":"-","v":68,"j":-0.32},{"p":"J","g":"-","v":65,"j":0.08},{"p":"J","g":"-","v":62,"j":-0.22},{"p":"J","g":"-","v":60,"j":0.35},{"p":"J","g":"-","v":58,"j":-0.05},{"p":"J","g":"-","v":55,"j":0.22},{"p":"J","g":"-","v":53,"j":-0.28},{"p":"J","g":"-","v":51,"j":0.12},{"p":"J","g":"-","v":50,"j":-0.18},{"p":"J","g":"-","v":48,"j":0.28},{"p":"J","g":"-","v":46,"j":-0.3},{"p":"J","g":"-","v":45,"j":0.02},{"p":"J","g":"-","v":43,"j":0.36},{"p":"J","g":"-","v":42,"j":-0.1},{"p":"J","g":"-","v":40,"j":0.15},{"p":"J","g":"-","v":38,"j":-0.33},{"p":"J","g":"-","v":37,"j":0.25},{"p":"J","g":"-","v":35,"j":-0.02},{"p":"J","g":"-","v":34,"j":-0.3},{"p":"J","g":"-","v":32,"j":0.32},{"p":"J","g":"-","v":31,"j":-0.2},{"p":"J","g":"-","v":30,"j":0.1},{"p":"J","g":"-","v":28,"j":-0.28},{"p":"J","g":"-","v":27,"j":0.2},{"p":"J","g":"-","v":26,"j":-0.08},{"p":"J","g":"-","v":24,"j":0.36},{"p":"J","g":"-","v":23,"j":-0.33},{"p":"J","g":"-","v":22,"j":0.05},{"p":"J","g":"-","v":20,"j":0.28},{"p":"J","g":"-","v":19,"j":-0.15},{"p":"J","g":"-","v":18,"j":0.15},{"p":"J","g":"-","v":16,"j":-0.32},{"p":"J","g":"-","v":15,"j":0.35},{"p":"J","g":"-","v":14,"j":-0.05},{"p":"J","g":"-","v":12,"j":0.22},{"p":"J","g":"-","v":11,"j":-0.25},{"p":"J","g":"-","v":10,"j":0.36},{"p":"J","g":"-","v":90,"j":-0.25},{"p":"J","g":"-","v":66,"j":0.36},{"p":"J","g":"-","v":57,"j":-0.33},{"p":"J","g":"-","v":47,"j":0.38},
{"p":"J","g":"+","v":72,"j":-0.27},{"p":"J","g":"+","v":95,"j":-0.11},{"p":"J","g":"+","v":28,"j":-0.09},{"p":"J","g":"+","v":95,"j":0.17},{"p":"J","g":"+","v":48,"j":0.11},{"p":"J","g":"+","v":56,"j":0.23},{"p":"J","g":"+","v":16,"j":0.08},{"p":"J","g":"+","v":68,"j":0.19},{"p":"J","g":"+","v":56,"j":0.01},
{"p":"K","g":"-","v":932,"j":0.23},{"p":"K","g":"-","v":694,"j":0.02},{"p":"K","g":"-","v":676,"j":0.1},{"p":"K","g":"-","v":599,"j":-0.23},{"p":"K","g":"-","v":500,"j":-0.07},{"p":"K","g":"-","v":392,"j":-0.28},{"p":"K","g":"-","v":293,"j":-0.04},{"p":"K","g":"-","v":290,"j":0.33},{"p":"K","g":"-","v":253,"j":0.27},{"p":"K","g":"-","v":238,"j":0.11},{"p":"K","g":"-","v":238,"j":-0.25},{"p":"K","g":"-","v":230,"j":-0.1},{"p":"K","g":"-","v":225,"j":0.2},{"p":"K","g":"-","v":215,"j":-0.33},{"p":"K","g":"-","v":210,"j":0.05},{"p":"K","g":"-","v":205,"j":0.3},{"p":"K","g":"-","v":198,"j":-0.18},{"p":"K","g":"-","v":190,"j":0.15},{"p":"K","g":"-","v":185,"j":-0.3},{"p":"K","g":"-","v":180,"j":0.0},{"p":"K","g":"-","v":175,"j":0.25},{"p":"K","g":"-","v":170,"j":-0.28},{"p":"K","g":"-","v":165,"j":0.1},{"p":"K","g":"-","v":160,"j":-0.12},{"p":"K","g":"-","v":155,"j":0.35},{"p":"K","g":"-","v":150,"j":-0.05},{"p":"K","g":"-","v":145,"j":0.18},{"p":"K","g":"-","v":140,"j":-0.32},{"p":"K","g":"-","v":135,"j":0.05},{"p":"K","g":"-","v":130,"j":0.28},{"p":"K","g":"-","v":125,"j":-0.2},{"p":"K","g":"-","v":120,"j":0.12},{"p":"K","g":"-","v":115,"j":-0.3},{"p":"K","g":"-","v":110,"j":0.22},{"p":"K","g":"-","v":105,"j":-0.08},{"p":"K","g":"-","v":100,"j":0.32},{"p":"K","g":"-","v":95,"j":-0.25},{"p":"K","g":"-","v":90,"j":0.08},{"p":"K","g":"-","v":85,"j":-0.15},{"p":"K","g":"-","v":80,"j":0.25},{"p":"K","g":"-","v":75,"j":-0.33},{"p":"K","g":"-","v":70,"j":0.15},{"p":"K","g":"-","v":65,"j":-0.02},{"p":"K","g":"-","v":60,"j":0.3},{"p":"K","g":"-","v":55,"j":-0.3},{"p":"K","g":"-","v":50,"j":0.05},{"p":"K","g":"-","v":45,"j":-0.18},{"p":"K","g":"-","v":40,"j":0.2},{"p":"K","g":"-","v":35,"j":-0.05},{"p":"K","g":"-","v":30,"j":0.35},{"p":"K","g":"-","v":25,"j":-0.28},{"p":"K","g":"-","v":20,"j":0.1},{"p":"K","g":"-","v":270,"j":-0.15},{"p":"K","g":"-","v":300,"j":0.05},
{"p":"K","g":"+","v":617,"j":-0.25},{"p":"K","g":"+","v":262,"j":-0.09},{"p":"K","g":"+","v":170,"j":0.25},{"p":"K","g":"+","v":160,"j":0.1},{"p":"K","g":"+","v":105,"j":0.22},{"p":"K","g":"+","v":93,"j":-0.01},{"p":"K","g":"+","v":68,"j":0.16},{"p":"K","g":"+","v":52,"j":-0.06},{"p":"K","g":"+","v":15,"j":-0.32},{"p":"K","g":"+","v":74,"j":0.1},
{"p":"L","g":"-","v":437,"j":-0.23},{"p":"L","g":"-","v":379,"j":-0.19},{"p":"L","g":"-","v":331,"j":0.06},{"p":"L","g":"-","v":306,"j":0.27},{"p":"L","g":"-","v":269,"j":-0.29},{"p":"L","g":"-","v":250,"j":-0.29},{"p":"L","g":"-","v":227,"j":-0.19},{"p":"L","g":"-","v":195,"j":0.16},{"p":"L","g":"-","v":186,"j":0.3},{"p":"L","g":"-","v":189,"j":0.05},{"p":"L","g":"-","v":170,"j":-0.03},{"p":"L","g":"-","v":180,"j":-0.1},{"p":"L","g":"-","v":165,"j":0.22},{"p":"L","g":"-","v":160,"j":-0.3},{"p":"L","g":"-","v":155,"j":0.1},{"p":"L","g":"-","v":150,"j":-0.18},{"p":"L","g":"-","v":148,"j":0.32},{"p":"L","g":"-","v":145,"j":0.0},{"p":"L","g":"-","v":140,"j":-0.3},{"p":"L","g":"-","v":138,"j":0.2},{"p":"L","g":"-","v":135,"j":-0.08},{"p":"L","g":"-","v":130,"j":0.28},{"p":"L","g":"-","v":128,"j":-0.25},{"p":"L","g":"-","v":125,"j":0.12},{"p":"L","g":"-","v":120,"j":-0.3},{"p":"L","g":"-","v":118,"j":0.05},{"p":"L","g":"-","v":115,"j":0.33},{"p":"L","g":"-","v":112,"j":-0.15},{"p":"L","g":"-","v":110,"j":0.18},{"p":"L","g":"-","v":105,"j":-0.28},{"p":"L","g":"-","v":102,"j":0.0},{"p":"L","g":"-","v":100,"j":0.25},{"p":"L","g":"-","v":98,"j":-0.3},{"p":"L","g":"-","v":95,"j":0.1},{"p":"L","g":"-","v":92,"j":-0.2},{"p":"L","g":"-","v":90,"j":0.3},{"p":"L","g":"-","v":88,"j":-0.05},{"p":"L","g":"-","v":85,"j":0.15},{"p":"L","g":"-","v":82,"j":-0.3},{"p":"L","g":"-","v":80,"j":0.22},{"p":"L","g":"-","v":78,"j":-0.12},{"p":"L","g":"-","v":75,"j":0.05},{"p":"L","g":"-","v":72,"j":-0.3},{"p":"L","g":"-","v":70,"j":0.28},{"p":"L","g":"-","v":68,"j":0.1},{"p":"L","g":"-","v":65,"j":-0.1},{"p":"L","g":"-","v":62,"j":0.33},{"p":"L","g":"-","v":58,"j":-0.22},{"p":"L","g":"-","v":50,"j":0.11},{"p":"L","g":"-","v":185,"j":-0.32},{"p":"L","g":"-","v":205,"j":0.0},{"p":"L","g":"-","v":72,"j":0.15},
{"p":"L","g":"+","v":182,"j":-0.11},{"p":"L","g":"+","v":144,"j":-0.29},{"p":"L","g":"+","v":124,"j":0.26},{"p":"L","g":"+","v":112,"j":-0.08},{"p":"L","g":"+","v":109,"j":0.01},{"p":"L","g":"+","v":76,"j":-0.18},{"p":"L","g":"+","v":61,"j":-0.09},{"p":"L","g":"+","v":76,"j":0.09},{"p":"L","g":"+","v":79,"j":0.18},{"p":"L","g":"+","v":100,"j":0.12}
]
},
"vconcat": [
{"spacing": 10, "hconcat": [
{"width":249,"height":158.5,"title":{"text":"A","dx":5},"resolve":{"scale":{"xOffset":"independent"}},"layer":[
{"data":{"name":"box"},"transform":[{"filter":"datum.p==='A'"}],"mark":{"type":"rule","color":"#333333","strokeWidth":1.5},"encoding":{"x":{"field":"g","type":"nominal","scale":{"type":"band","domain":["-","+"],"paddingInner":0.4,"paddingOuter":0.2979,"align":0.4926},"axis":{"orient":"bottom","title":null,"labelExpr":"'Cytolysin ' + datum.label","minExtent":27.7,"maxExtent":27.7}},"y":{"field":"lo","type":"quantitative","scale":{"domain":[-2.6,41.7],"nice":false,"zero":false},"axis":{"title":null,"values":[0,10,20,30,40],"tickCount":5,"labelOverlap":false,"minExtent":47,"maxExtent":47}},"y2":{"field":"hi"}}},
{"data":{"name":"box"},"transform":[{"filter":"datum.p==='A'"}],"mark":{"type":"bar","stroke":"#333333","strokeWidth":1.5},"encoding":{"x":{"field":"g","type":"nominal","axis":null},"y":{"field":"q1","type":"quantitative"},"y2":{"field":"q3"},"fill":{"field":"g","type":"nominal","scale":{"domain":["-","+"],"range":["#006400","#ff0000"]},"legend":null}}},
{"data":{"name":"box"},"transform":[{"filter":"datum.p==='A'"}],"mark":{"type":"bar","fillOpacity":0,"stroke":"#333333","strokeWidth":3},"encoding":{"x":{"field":"g","type":"nominal","axis":null},"y":{"field":"med","type":"quantitative"},"y2":{"field":"med"}}},
{"data":{"name":"pts"},"transform":[{"filter":"datum.p==='A'"}],"mark":{"type":"point","filled":true,"size":36,"fillOpacity":0.5,"strokeWidth":0.8,"strokeOpacity":0.9},"encoding":{"x":{"field":"g","type":"nominal","axis":{"orient":"top","title":"MELD Score","labels":false,"ticks":false,"domain":false,"minExtent":0,"maxExtent":0,"titlePadding":19,"titleFontSize":21,"titleBaseline":"alphabetic"}},"xOffset":{"field":"j","type":"quantitative","scale":{"domain":[-0.5,0.5]}},"y":{"field":"v","type":"quantitative"},"fill":{"field":"g","type":"nominal","legend":null},"stroke":{"field":"g","type":"nominal","scale":{"domain":["-","+"],"range":["#1f5f1f","#c01010"]},"legend":null}}},
{"data":{"name":"ann"},"transform":[{"filter":"datum.p==='A'"}],"mark":{"type":"text","fontSize":8,"color":"#333333"},"encoding":{"x":{"datum":"-","bandPosition":1.44,"axis":null},"y":{"field":"y","type":"quantitative"},"text":{"field":"t"}}}
]},
{"width":242.4,"height":158.5,"title":{"text":"B","dx":1},"resolve":{"scale":{"xOffset":"independent"}},"layer":[
{"data":{"name":"box"},"transform":[{"filter":"datum.p==='B'"}],"mark":{"type":"rule","color":"#333333","strokeWidth":1.5},"encoding":{"x":{"field":"g","type":"nominal","scale":{"type":"band","domain":["-","+"],"paddingInner":0.392,"paddingOuter":0.264,"align":0.571},"axis":{"orient":"bottom","title":null,"labelExpr":"'Cytolysin ' + datum.label","minExtent":27.7,"maxExtent":27.7}},"y":{"field":"lo","type":"quantitative","scale":{"domain":[-2.5,41.5],"nice":false,"zero":false},"axis":{"title":null,"values":[0,10,20,30,40],"tickCount":5,"labelOverlap":false,"minExtent":42.3,"maxExtent":42.3}},"y2":{"field":"hi"}}},
{"data":{"name":"box"},"transform":[{"filter":"datum.p==='B'"}],"mark":{"type":"bar","stroke":"#333333","strokeWidth":1.5},"encoding":{"x":{"field":"g","type":"nominal","axis":null},"y":{"field":"q1","type":"quantitative"},"y2":{"field":"q3"},"fill":{"field":"g","type":"nominal","scale":{"domain":["-","+"],"range":["#006400","#ff0000"]},"legend":null}}},
{"data":{"name":"box"},"transform":[{"filter":"datum.p==='B'"}],"mark":{"type":"bar","fillOpacity":0,"stroke":"#333333","strokeWidth":3},"encoding":{"x":{"field":"g","type":"nominal","axis":null},"y":{"field":"med","type":"quantitative"},"y2":{"field":"med"}}},
{"data":{"name":"pts"},"transform":[{"filter":"datum.p==='B'"}],"mark":{"type":"point","filled":true,"size":36,"fillOpacity":0.5,"strokeWidth":0.8,"strokeOpacity":0.9},"encoding":{"x":{"field":"g","type":"nominal","axis":{"orient":"top","title":"MELD-Na Score","labels":false,"ticks":false,"domain":false,"minExtent":0,"maxExtent":0,"titlePadding":19,"titleFontSize":21,"titleBaseline":"alphabetic"}},"xOffset":{"field":"j","type":"quantitative","scale":{"domain":[-0.5,0.5]}},"y":{"field":"v","type":"quantitative"},"fill":{"field":"g","type":"nominal","legend":null},"stroke":{"field":"g","type":"nominal","scale":{"domain":["-","+"],"range":["#1f5f1f","#c01010"]},"legend":null}}},
{"data":{"name":"ann"},"transform":[{"filter":"datum.p==='B'"}],"mark":{"type":"text","fontSize":8,"color":"#333333"},"encoding":{"x":{"datum":"-","bandPosition":1.44,"axis":null},"y":{"field":"y","type":"quantitative"},"text":{"field":"t"}}}
]},
{"width":236.7,"height":158.5,"title":{"text":"C","dx":14},"resolve":{"scale":{"xOffset":"independent"}},"layer":[
{"data":{"name":"box"},"transform":[{"filter":"datum.p==='C'"}],"mark":{"type":"rule","color":"#333333","strokeWidth":1.5},"encoding":{"x":{"field":"g","type":"nominal","scale":{"type":"band","domain":["-","+"],"paddingInner":0.456,"paddingOuter":0.337,"align":0.496},"axis":{"orient":"bottom","title":null,"labelExpr":"'Cytolysin ' + datum.label","minExtent":27.7,"maxExtent":27.7}},"y":{"field":"lo","type":"quantitative","scale":{"domain":[-10.1,161.1],"nice":false,"zero":false},"axis":{"title":null,"values":[0,50,100,150],"tickCount":4,"labelOverlap":false,"minExtent":68.6,"maxExtent":68.6}},"y2":{"field":"hi"}}},
{"data":{"name":"box"},"transform":[{"filter":"datum.p==='C'"}],"mark":{"type":"bar","stroke":"#333333","strokeWidth":1.5},"encoding":{"x":{"field":"g","type":"nominal","axis":null},"y":{"field":"q1","type":"quantitative"},"y2":{"field":"q3"},"fill":{"field":"g","type":"nominal","scale":{"domain":["-","+"],"range":["#006400","#ff0000"]},"legend":null}}},
{"data":{"name":"box"},"transform":[{"filter":"datum.p==='C'"}],"mark":{"type":"bar","fillOpacity":0,"stroke":"#333333","strokeWidth":3},"encoding":{"x":{"field":"g","type":"nominal","axis":null},"y":{"field":"med","type":"quantitative"},"y2":{"field":"med"}}},
{"data":{"name":"pts"},"transform":[{"filter":"datum.p==='C'"}],"mark":{"type":"point","filled":true,"size":36,"fillOpacity":0.5,"strokeWidth":0.8,"strokeOpacity":0.9},"encoding":{"x":{"field":"g","type":"nominal","axis":{"orient":"top","title":"FIB-4","labels":false,"ticks":false,"domain":false,"minExtent":0,"maxExtent":0,"titlePadding":19,"titleFontSize":21,"titleBaseline":"alphabetic"}},"xOffset":{"field":"j","type":"quantitative","scale":{"domain":[-0.5,0.5]}},"y":{"field":"v","type":"quantitative"},"fill":{"field":"g","type":"nominal","legend":null},"stroke":{"field":"g","type":"nominal","scale":{"domain":["-","+"],"range":["#1f5f1f","#c01010"]},"legend":null}}},
{"data":{"name":"ann"},"transform":[{"filter":"datum.p==='C'"}],"mark":{"type":"text","fontSize":8,"color":"#333333"},"encoding":{"x":{"datum":"-","bandPosition":1.55,"axis":null},"y":{"field":"y","type":"quantitative"},"text":{"field":"t"}}}
]}
]},
{"spacing": 10, "hconcat": [
{"width":249,"height":159.5,"title":{"text":"D","dx":6},"resolve":{"scale":{"xOffset":"independent"}},"layer":[
{"data":{"name":"box"},"transform":[{"filter":"datum.p==='D'"}],"mark":{"type":"rule","color":"#333333","strokeWidth":1.5},"encoding":{"x":{"field":"g","type":"nominal","scale":{"type":"band","domain":["-","+"],"paddingInner":0.3817,"paddingOuter":0.2985,"align":0.515},"axis":{"orient":"bottom","title":null,"labelExpr":"'Cytolysin ' + datum.label","minExtent":30.5,"maxExtent":30.5}},"y":{"field":"lo","type":"quantitative","scale":{"domain":[-1.05,16.86],"nice":false,"zero":false},"axis":{"title":null,"values":[0,5,10,15],"tickCount":4,"labelOverlap":false,"minExtent":47,"maxExtent":47}},"y2":{"field":"hi"}}},
{"data":{"name":"box"},"transform":[{"filter":"datum.p==='D'"}],"mark":{"type":"bar","stroke":"#333333","strokeWidth":1.5},"encoding":{"x":{"field":"g","type":"nominal","axis":null},"y":{"field":"q1","type":"quantitative"},"y2":{"field":"q3"},"fill":{"field":"g","type":"nominal","scale":{"domain":["-","+"],"range":["#006400","#ff0000"]},"legend":null}}},
{"data":{"name":"box"},"transform":[{"filter":"datum.p==='D'"}],"mark":{"type":"bar","fillOpacity":0,"stroke":"#333333","strokeWidth":3},"encoding":{"x":{"field":"g","type":"nominal","axis":null},"y":{"field":"med","type":"quantitative"},"y2":{"field":"med"}}},
{"data":{"name":"pts"},"transform":[{"filter":"datum.p==='D'"}],"mark":{"type":"point","filled":true,"size":36,"fillOpacity":0.5,"strokeWidth":0.8,"strokeOpacity":0.9},"encoding":{"x":{"field":"g","type":"nominal","axis":{"orient":"top","title":"ABIC","labels":false,"ticks":false,"domain":false,"minExtent":0,"maxExtent":0,"titlePadding":19,"titleFontSize":21,"titleBaseline":"alphabetic"}},"xOffset":{"field":"j","type":"quantitative","scale":{"domain":[-0.5,0.5]}},"y":{"field":"v","type":"quantitative"},"fill":{"field":"g","type":"nominal","legend":null},"stroke":{"field":"g","type":"nominal","scale":{"domain":["-","+"],"range":["#1f5f1f","#c01010"]},"legend":null}}},
{"data":{"name":"ann"},"transform":[{"filter":"datum.p==='D'"}],"mark":{"type":"text","fontSize":8,"color":"#333333"},"encoding":{"x":{"datum":"-","bandPosition":1.42,"axis":null},"y":{"field":"y","type":"quantitative"},"text":{"field":"t"}}}
]},
{"width":250,"height":159.5,"title":{"text":"E","dx":0},"resolve":{"scale":{"xOffset":"independent"}},"layer":[
{"data":{"name":"box"},"transform":[{"filter":"datum.p==='E'"}],"mark":{"type":"rule","color":"#333333","strokeWidth":1.5},"encoding":{"x":{"field":"g","type":"nominal","scale":{"type":"band","domain":["-","+"],"paddingInner":0.388,"paddingOuter":0.297,"align":0.5},"axis":{"orient":"bottom","title":null,"labelExpr":"'Cytolysin ' + datum.label","minExtent":30.5,"maxExtent":30.5}},"y":{"field":"lo","type":"quantitative","scale":{"domain":[-1.05,16.8],"nice":false,"zero":false},"axis":{"title":null,"values":[0,5,10,15],"tickCount":4,"labelOverlap":false,"minExtent":47.3,"maxExtent":47.3}},"y2":{"field":"hi"}}},
{"data":{"name":"box"},"transform":[{"filter":"datum.p==='E'"}],"mark":{"type":"bar","stroke":"#333333","strokeWidth":1.5},"encoding":{"x":{"field":"g","type":"nominal","axis":null},"y":{"field":"q1","type":"quantitative"},"y2":{"field":"q3"},"fill":{"field":"g","type":"nominal","scale":{"domain":["-","+"],"range":["#006400","#ff0000"]},"legend":null}}},
{"data":{"name":"box"},"transform":[{"filter":"datum.p==='E'"}],"mark":{"type":"bar","fillOpacity":0,"stroke":"#333333","strokeWidth":3},"encoding":{"x":{"field":"g","type":"nominal","axis":null},"y":{"field":"med","type":"quantitative"},"y2":{"field":"med"}}},
{"data":{"name":"pts"},"transform":[{"filter":"datum.p==='E'"}],"mark":{"type":"point","filled":true,"size":36,"fillOpacity":0.5,"strokeWidth":0.8,"strokeOpacity":0.9},"encoding":{"x":{"field":"g","type":"nominal","axis":{"orient":"top","title":"Child-Pugh","labels":false,"ticks":false,"domain":false,"minExtent":0,"maxExtent":0,"titlePadding":19,"titleFontSize":21,"titleBaseline":"alphabetic"}},"xOffset":{"field":"j","type":"quantitative","scale":{"domain":[-0.5,0.5]}},"y":{"field":"v","type":"quantitative"},"fill":{"field":"g","type":"nominal","legend":null},"stroke":{"field":"g","type":"nominal","scale":{"domain":["-","+"],"range":["#1f5f1f","#c01010"]},"legend":null}}},
{"data":{"name":"ann"},"transform":[{"filter":"datum.p==='E'"}],"mark":{"type":"text","fontSize":8,"color":"#333333"},"encoding":{"x":{"datum":"-","bandPosition":1.41,"axis":null},"y":{"field":"y","type":"quantitative"},"text":{"field":"t"}}}
]},
{"width":260,"height":159.5,"title":{"text":"F","dx":7},"resolve":{"scale":{"xOffset":"independent"}},"layer":[
{"data":{"name":"box"},"transform":[{"filter":"datum.p==='F'"}],"mark":{"type":"rule","color":"#333333","strokeWidth":1.5},"encoding":{"x":{"field":"g","type":"nominal","scale":{"type":"band","domain":["-","+"],"paddingInner":0.402,"paddingOuter":0.291,"align":0.495},"axis":{"orient":"bottom","title":null,"labelExpr":"'Cytolysin ' + datum.label","minExtent":30.5,"maxExtent":30.5}},"y":{"field":"lo","type":"quantitative","scale":{"domain":[-0.18,3],"nice":false,"zero":false},"axis":{"title":null,"values":[0,1,2,3],"tickCount":4,"labelOverlap":false,"minExtent":33.3,"maxExtent":33.3}},"y2":{"field":"hi"}}},
{"data":{"name":"box"},"transform":[{"filter":"datum.p==='F'"}],"mark":{"type":"bar","stroke":"#333333","strokeWidth":1.5},"encoding":{"x":{"field":"g","type":"nominal","axis":null},"y":{"field":"q1","type":"quantitative"},"y2":{"field":"q3"},"fill":{"field":"g","type":"nominal","scale":{"domain":["-","+"],"range":["#006400","#ff0000"]},"legend":null}}},
{"data":{"name":"box"},"transform":[{"filter":"datum.p==='F'"}],"mark":{"type":"bar","fillOpacity":0,"stroke":"#333333","strokeWidth":3},"encoding":{"x":{"field":"g","type":"nominal","axis":null},"y":{"field":"med","type":"quantitative"},"y2":{"field":"med"}}},
{"data":{"name":"pts"},"transform":[{"filter":"datum.p==='F'"}],"mark":{"type":"point","filled":true,"size":36,"fillOpacity":0.5,"strokeWidth":0.8,"strokeOpacity":0.9},"encoding":{"x":{"field":"g","type":"nominal","axis":{"orient":"top","title":"ACLF Grade","labels":false,"ticks":false,"domain":false,"minExtent":0,"maxExtent":0,"titlePadding":19,"titleFontSize":21,"titleBaseline":"alphabetic"}},"xOffset":{"field":"j","type":"quantitative","scale":{"domain":[-0.5,0.5]}},"y":{"field":"v","type":"quantitative"},"fill":{"field":"g","type":"nominal","legend":null},"stroke":{"field":"g","type":"nominal","scale":{"domain":["-","+"],"range":["#1f5f1f","#c01010"]},"legend":null}}},
{"data":{"name":"ann"},"transform":[{"filter":"datum.p==='F'"}],"mark":{"type":"text","fontSize":8,"color":"#333333"},"encoding":{"x":{"datum":"-","bandPosition":1.43,"axis":null},"y":{"field":"y","type":"quantitative"},"text":{"field":"t"}}}
]}
]},
{"spacing": 10, "hconcat": [
{"width":249,"height":159.5,"title":{"text":"G","dx":6},"resolve":{"scale":{"xOffset":"independent"}},"layer":[
{"data":{"name":"box"},"transform":[{"filter":"datum.p==='G'"}],"mark":{"type":"rule","color":"#333333","strokeWidth":1.5},"encoding":{"x":{"field":"g","type":"nominal","scale":{"type":"band","domain":["-","+"],"paddingInner":0.396,"paddingOuter":0.2959,"align":0.4925},"axis":{"orient":"bottom","title":null,"labelExpr":"'Cytolysin ' + datum.label","minExtent":39.5,"maxExtent":39.5}},"y":{"field":"lo","type":"quantitative","scale":{"domain":[-0.93,15],"nice":false,"zero":false},"axis":{"title":null,"values":[0,5,10,15],"tickCount":4,"labelOverlap":false,"minExtent":47,"maxExtent":47}},"y2":{"field":"hi"}}},
{"data":{"name":"box"},"transform":[{"filter":"datum.p==='G'"}],"mark":{"type":"bar","stroke":"#333333","strokeWidth":1.5},"encoding":{"x":{"field":"g","type":"nominal","axis":null},"y":{"field":"q1","type":"quantitative"},"y2":{"field":"q3"},"fill":{"field":"g","type":"nominal","scale":{"domain":["-","+"],"range":["#006400","#ff0000"]},"legend":null}}},
{"data":{"name":"box"},"transform":[{"filter":"datum.p==='G'"}],"mark":{"type":"bar","fillOpacity":0,"stroke":"#333333","strokeWidth":3},"encoding":{"x":{"field":"g","type":"nominal","axis":null},"y":{"field":"med","type":"quantitative"},"y2":{"field":"med"}}},
{"data":{"name":"pts"},"transform":[{"filter":"datum.p==='G'"}],"mark":{"type":"point","filled":true,"size":36,"fillOpacity":0.5,"strokeWidth":0.8,"strokeOpacity":0.9},"encoding":{"x":{"field":"g","type":"nominal","axis":{"orient":"top","title":"CLIF-C OF Score","labels":false,"ticks":false,"domain":false,"minExtent":0,"maxExtent":0,"titlePadding":19,"titleFontSize":21,"titleBaseline":"alphabetic"}},"xOffset":{"field":"j","type":"quantitative","scale":{"domain":[-0.5,0.5]}},"y":{"field":"v","type":"quantitative"},"fill":{"field":"g","type":"nominal","legend":null},"stroke":{"field":"g","type":"nominal","scale":{"domain":["-","+"],"range":["#1f5f1f","#c01010"]},"legend":null}}},
{"data":{"name":"ann"},"transform":[{"filter":"datum.p==='G'"}],"mark":{"type":"text","fontSize":8,"color":"#333333"},"encoding":{"x":{"datum":"-","bandPosition":1.43,"axis":null},"y":{"field":"y","type":"quantitative"},"text":{"field":"t"}}}
]},
{"width":256.7,"height":159.5,"title":{"text":"H","dx":1},"resolve":{"scale":{"xOffset":"independent"}},"layer":[
{"data":{"name":"box"},"transform":[{"filter":"datum.p==='H'"}],"mark":{"type":"rule","color":"#333333","strokeWidth":1.5},"encoding":{"x":{"field":"g","type":"nominal","scale":{"type":"band","domain":["-","+"],"paddingInner":0.3745,"paddingOuter":0.287,"align":0.5},"axis":{"orient":"bottom","title":null,"labelExpr":"'Cytolysin ' + datum.label","minExtent":39.5,"maxExtent":39.5}},"y":{"field":"lo","type":"quantitative","scale":{"domain":[-0.37,6],"nice":false,"zero":false},"axis":{"title":null,"values":[0,2,4,6],"tickCount":4,"labelOverlap":false,"minExtent":42.3,"maxExtent":42.3}},"y2":{"field":"hi"}}},
{"data":{"name":"box"},"transform":[{"filter":"datum.p==='H'"}],"mark":{"type":"bar","stroke":"#333333","strokeWidth":1.5},"encoding":{"x":{"field":"g","type":"nominal","axis":null},"y":{"field":"q1","type":"quantitative"},"y2":{"field":"q3"},"fill":{"field":"g","type":"nominal","scale":{"domain":["-","+"],"range":["#006400","#ff0000"]},"legend":null}}},
{"data":{"name":"box"},"transform":[{"filter":"datum.p==='H'"}],"mark":{"type":"bar","fillOpacity":0,"stroke":"#333333","strokeWidth":3},"encoding":{"x":{"field":"g","type":"nominal","axis":null},"y":{"field":"med","type":"quantitative"},"y2":{"field":"med"}}},
{"data":{"name":"pts"},"transform":[{"filter":"datum.p==='H'"}],"mark":{"type":"point","filled":true,"size":36,"fillOpacity":0.5,"strokeWidth":0.8,"strokeOpacity":0.9},"encoding":{"x":{"field":"g","type":"nominal","axis":{"orient":"top","title":"HE Grade","labels":false,"ticks":false,"domain":false,"minExtent":0,"maxExtent":0,"titlePadding":19,"titleFontSize":21,"titleBaseline":"alphabetic"}},"xOffset":{"field":"j","type":"quantitative","scale":{"domain":[-0.5,0.5]}},"y":{"field":"v","type":"quantitative"},"fill":{"field":"g","type":"nominal","legend":null},"stroke":{"field":"g","type":"nominal","scale":{"domain":["-","+"],"range":["#1f5f1f","#c01010"]},"legend":null}}},
{"data":{"name":"ann"},"transform":[{"filter":"datum.p==='H'"}],"mark":{"type":"text","fontSize":8,"color":"#333333"},"encoding":{"x":{"datum":"-","bandPosition":1.41,"axis":null},"y":{"field":"y","type":"quantitative"},"text":{"field":"t"}}}
]},
{"width":236.7,"height":159.5,"title":{"text":"I","dx":6},"resolve":{"scale":{"xOffset":"independent"}},"layer":[
{"data":{"name":"box"},"transform":[{"filter":"datum.p==='I'"}],"mark":{"type":"rule","color":"#333333","strokeWidth":1.5},"encoding":{"x":{"field":"g","type":"nominal","scale":{"type":"band","domain":["-","+"],"paddingInner":0.376,"paddingOuter":0.29,"align":0.506},"axis":{"orient":"bottom","title":null,"labelExpr":"'Cytolysin ' + datum.label","minExtent":39.5,"maxExtent":39.5}},"y":{"field":"lo","type":"quantitative","scale":{"domain":[-31.4,468],"nice":false,"zero":false},"axis":{"title":null,"values":[0,100,200,300,400],"tickCount":5,"labelOverlap":false,"minExtent":54.3,"maxExtent":54.3}},"y2":{"field":"hi"}}},
{"data":{"name":"box"},"transform":[{"filter":"datum.p==='I'"}],"mark":{"type":"bar","stroke":"#333333","strokeWidth":1.5},"encoding":{"x":{"field":"g","type":"nominal","axis":null},"y":{"field":"q1","type":"quantitative"},"y2":{"field":"q3"},"fill":{"field":"g","type":"nominal","scale":{"domain":["-","+"],"range":["#006400","#ff0000"]},"legend":null}}},
{"data":{"name":"box"},"transform":[{"filter":"datum.p==='I'"}],"mark":{"type":"bar","fillOpacity":0,"stroke":"#333333","strokeWidth":3},"encoding":{"x":{"field":"g","type":"nominal","axis":null},"y":{"field":"med","type":"quantitative"},"y2":{"field":"med"}}},
{"data":{"name":"pts"},"transform":[{"filter":"datum.p==='I'"}],"mark":{"type":"point","filled":true,"size":36,"fillOpacity":0.5,"strokeWidth":0.8,"strokeOpacity":0.9},"encoding":{"x":{"field":"g","type":"nominal","axis":{"orient":"top","title":"ALT [U/L]","labels":false,"ticks":false,"domain":false,"minExtent":0,"maxExtent":0,"titlePadding":19,"titleFontSize":21,"titleBaseline":"alphabetic"}},"xOffset":{"field":"j","type":"quantitative","scale":{"domain":[-0.5,0.5]}},"y":{"field":"v","type":"quantitative"},"fill":{"field":"g","type":"nominal","legend":null},"stroke":{"field":"g","type":"nominal","scale":{"domain":["-","+"],"range":["#1f5f1f","#c01010"]},"legend":null}}},
{"data":{"name":"ann"},"transform":[{"filter":"datum.p==='I'"}],"mark":{"type":"text","fontSize":8,"color":"#333333"},"encoding":{"x":{"datum":"-","bandPosition":1.41,"axis":null},"y":{"field":"y","type":"quantitative"},"text":{"field":"t"}}}
]}
]},
{"spacing": 10, "hconcat": [
{"width":249,"height":160,"title":{"text":"J","dx":7},"resolve":{"scale":{"xOffset":"independent"}},"layer":[
{"data":{"name":"box"},"transform":[{"filter":"datum.p==='J'"}],"mark":{"type":"rule","color":"#333333","strokeWidth":1.5},"encoding":{"x":{"field":"g","type":"nominal","scale":{"type":"band","domain":["-","+"],"paddingInner":0.3372,"paddingOuter":0.382,"align":0.647},"axis":{"orient":"bottom","title":null,"labelExpr":"'Cytolysin ' + datum.label","minExtent":27,"maxExtent":27}},"y":{"field":"lo","type":"quantitative","scale":{"domain":[-112,1791],"nice":false,"zero":false},"axis":{"title":null,"values":[0,500,1000,1500],"tickCount":4,"format":"d","labelFontSize":18,"labelPadding":1,"labelOverlap":false,"minExtent":47,"maxExtent":47}},"y2":{"field":"hi"}}},
{"data":{"name":"box"},"transform":[{"filter":"datum.p==='J'"}],"mark":{"type":"bar","stroke":"#333333","strokeWidth":1.5},"encoding":{"x":{"field":"g","type":"nominal","axis":null},"y":{"field":"q1","type":"quantitative"},"y2":{"field":"q3"},"fill":{"field":"g","type":"nominal","scale":{"domain":["-","+"],"range":["#006400","#ff0000"]},"legend":null}}},
{"data":{"name":"box"},"transform":[{"filter":"datum.p==='J'"}],"mark":{"type":"bar","fillOpacity":0,"stroke":"#333333","strokeWidth":3},"encoding":{"x":{"field":"g","type":"nominal","axis":null},"y":{"field":"med","type":"quantitative"},"y2":{"field":"med"}}},
{"data":{"name":"pts"},"transform":[{"filter":"datum.p==='J'"}],"mark":{"type":"point","filled":true,"size":36,"fillOpacity":0.5,"strokeWidth":0.8,"strokeOpacity":0.9},"encoding":{"x":{"field":"g","type":"nominal","axis":{"orient":"top","title":"AST [U/L]","labels":false,"ticks":false,"domain":false,"minExtent":0,"maxExtent":0,"titlePadding":19,"titleFontSize":21,"titleBaseline":"alphabetic"}},"xOffset":{"field":"j","type":"quantitative","scale":{"domain":[-0.5,0.5]}},"y":{"field":"v","type":"quantitative"},"fill":{"field":"g","type":"nominal","legend":null},"stroke":{"field":"g","type":"nominal","scale":{"domain":["-","+"],"range":["#1f5f1f","#c01010"]},"legend":null}}},
{"data":{"name":"ann"},"transform":[{"filter":"datum.p==='J'"}],"mark":{"type":"text","fontSize":8,"color":"#333333"},"encoding":{"x":{"datum":"-","bandPosition":1.36,"axis":null},"y":{"field":"y","type":"quantitative"},"text":{"field":"t"}}}
]},
{"width":222.7,"height":160,"title":{"text":"K","dx":1},"resolve":{"scale":{"xOffset":"independent"}},"layer":[
{"data":{"name":"box"},"transform":[{"filter":"datum.p==='K'"}],"mark":{"type":"rule","color":"#333333","strokeWidth":1.5},"encoding":{"x":{"field":"g","type":"nominal","scale":{"type":"band","domain":["-","+"],"paddingInner":0.396,"paddingOuter":0.282,"align":0.5},"axis":{"orient":"bottom","title":null,"labelExpr":"'Cytolysin ' + datum.label","minExtent":27,"maxExtent":27}},"y":{"field":"lo","type":"quantitative","scale":{"domain":[-92.6,1389],"nice":false,"zero":false},"axis":{"title":null,"values":[0,500,1000],"tickCount":3,"format":"d","labelOverlap":false,"minExtent":72.3,"maxExtent":72.3}},"y2":{"field":"hi"}}},
{"data":{"name":"box"},"transform":[{"filter":"datum.p==='K'"}],"mark":{"type":"bar","stroke":"#333333","strokeWidth":1.5},"encoding":{"x":{"field":"g","type":"nominal","axis":null},"y":{"field":"q1","type":"quantitative"},"y2":{"field":"q3"},"fill":{"field":"g","type":"nominal","scale":{"domain":["-","+"],"range":["#006400","#ff0000"]},"legend":null}}},
{"data":{"name":"box"},"transform":[{"filter":"datum.p==='K'"}],"mark":{"type":"bar","fillOpacity":0,"stroke":"#333333","strokeWidth":3},"encoding":{"x":{"field":"g","type":"nominal","axis":null},"y":{"field":"med","type":"quantitative"},"y2":{"field":"med"}}},
{"data":{"name":"pts"},"transform":[{"filter":"datum.p==='K'"}],"mark":{"type":"point","filled":true,"size":36,"fillOpacity":0.5,"strokeWidth":0.8,"strokeOpacity":0.9},"encoding":{"x":{"field":"g","type":"nominal","axis":{"orient":"top","title":"GGT [U/L]","labels":false,"ticks":false,"domain":false,"minExtent":0,"maxExtent":0,"titlePadding":19,"titleFontSize":21,"titleBaseline":"alphabetic"}},"xOffset":{"field":"j","type":"quantitative","scale":{"domain":[-0.5,0.5]}},"y":{"field":"v","type":"quantitative"},"fill":{"field":"g","type":"nominal","legend":null},"stroke":{"field":"g","type":"nominal","scale":{"domain":["-","+"],"range":["#1f5f1f","#c01010"]},"legend":null}}},
{"data":{"name":"ann"},"transform":[{"filter":"datum.p==='K'"}],"mark":{"type":"text","fontSize":8,"color":"#333333"},"encoding":{"x":{"datum":"-","bandPosition":1.44,"axis":null},"y":{"field":"y","type":"quantitative"},"text":{"field":"t"}}}
]},
{"width":235.7,"height":160,"title":{"text":"L","dx":10},"resolve":{"scale":{"xOffset":"independent"}},"layer":[
{"data":{"name":"box"},"transform":[{"filter":"datum.p==='L'"}],"mark":{"type":"rule","color":"#333333","strokeWidth":1.5},"encoding":{"x":{"field":"g","type":"nominal","scale":{"type":"band","domain":["-","+"],"paddingInner":0.3855,"paddingOuter":0.29,"align":0.5},"axis":{"orient":"bottom","title":null,"labelExpr":"'Cytolysin ' + datum.label","minExtent":27,"maxExtent":27}},"y":{"field":"lo","type":"quantitative","scale":{"domain":[-43.7,655.5],"nice":false,"zero":false},"axis":{"title":null,"values":[0,200,400,600],"tickCount":4,"labelOverlap":false,"minExtent":58.3,"maxExtent":58.3}},"y2":{"field":"hi"}}},
{"data":{"name":"box"},"transform":[{"filter":"datum.p==='L'"}],"mark":{"type":"bar","stroke":"#333333","strokeWidth":1.5},"encoding":{"x":{"field":"g","type":"nominal","axis":null},"y":{"field":"q1","type":"quantitative"},"y2":{"field":"q3"},"fill":{"field":"g","type":"nominal","scale":{"domain":["-","+"],"range":["#006400","#ff0000"]},"legend":null}}},
{"data":{"name":"box"},"transform":[{"filter":"datum.p==='L'"}],"mark":{"type":"bar","fillOpacity":0,"stroke":"#333333","strokeWidth":3},"encoding":{"x":{"field":"g","type":"nominal","axis":null},"y":{"field":"med","type":"quantitative"},"y2":{"field":"med"}}},
{"data":{"name":"pts"},"transform":[{"filter":"datum.p==='L'"}],"mark":{"type":"point","filled":true,"size":36,"fillOpacity":0.5,"strokeWidth":0.8,"strokeOpacity":0.9},"encoding":{"x":{"field":"g","type":"nominal","axis":{"orient":"top","title":"AP [U/L]","labels":false,"ticks":false,"domain":false,"minExtent":0,"maxExtent":0,"titlePadding":19,"titleFontSize":21,"titleBaseline":"alphabetic"}},"xOffset":{"field":"j","type":"quantitative","scale":{"domain":[-0.5,0.5]}},"y":{"field":"v","type":"quantitative"},"fill":{"field":"g","type":"nominal","legend":null},"stroke":{"field":"g","type":"nominal","scale":{"domain":["-","+"],"range":["#1f5f1f","#c01010"]},"legend":null}}},
{"data":{"name":"ann"},"transform":[{"filter":"datum.p==='L'"}],"mark":{"type":"text","fontSize":8,"color":"#333333"},"encoding":{"x":{"datum":"-","bandPosition":1.42,"axis":null},"y":{"field":"y","type":"quantitative"},"text":{"field":"t"}}}
]}
]}
]
}
